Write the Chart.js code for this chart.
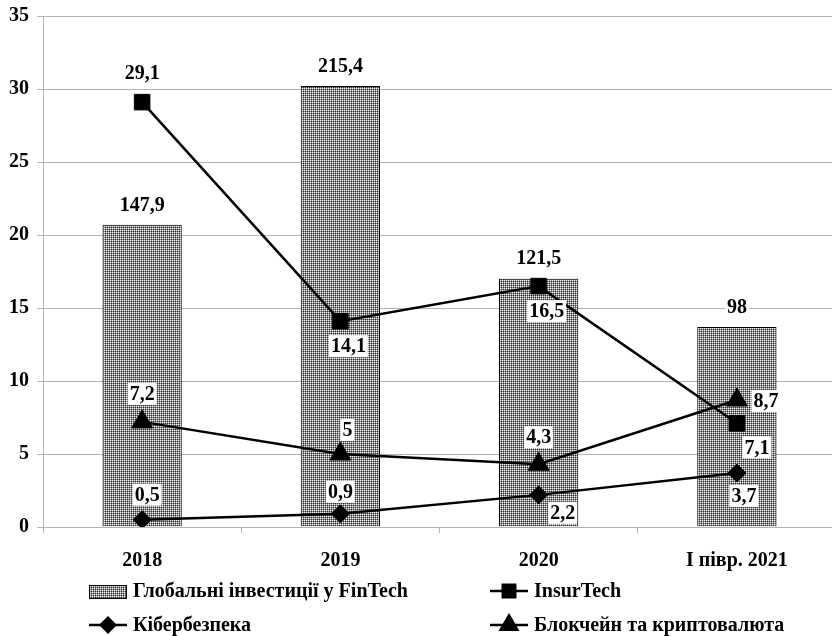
<!DOCTYPE html>
<html>
<head>
<meta charset="utf-8">
<script src="https://cdn.jsdelivr.net/npm/chart.js@4"></script>
<style>
  html, body { margin: 0; padding: 0; background: #fff; overflow: hidden; }
</style>
</head>
<body>
<canvas id="chart" width="849" height="636"></canvas>
<script>
// categories
const years = ['2018', '2019', '2020', 'I півр. 2021'];

// global FinTech investments, label values (bn USD)
const fintechValues = [147.9, 215.4, 121.5, 98];
// bar heights
const fintechBars = [20.7, 30.2, 17.0, 13.7];

const insurTech = [29.1, 14.1, 16.5, 7.1];
const cyberSecurity = [0.5, 0.9, 2.2, 3.7];
const blockchain = [7.2, 5, 4.3, 8.7];

const yTicks = [0, 5, 10, 15, 20, 25, 30, 35];

const FONT = "'Liberation Serif', 'Times New Roman', serif";
const GRID = '#b4b4b4';

// dotted grey fill like the original bars
function makePattern() {
    const c = document.createElement('canvas');
    c.width = 2; c.height = 2;
    const p = c.getContext('2d');
    p.fillStyle = '#909090';
    p.fillRect(0, 0, 2, 2);
    p.fillStyle = '#f0f0f0';
    p.fillRect(0, 0, 1, 1);
    p.fillStyle = '#303030';
    p.fillRect(1, 1, 1, 1);
    return p.createPattern(c, 'repeat');
}
const ctx = document.getElementById('chart').getContext('2d');
const pattern = makePattern();

const fmt = v => String(v).replace('.', ',');

// where each value label sits relative to its point (px)
const labelOffsets = [
    [[0, -20], [0, -20], [0, -21], [0, -20]],
    [[0, -29], [8, 25], [8, 25], [20, 24]],
    [[5, -25], [0, -22], [24, 18], [7, 23]],
    [[0, -28], [7, -24], [0, -27], [29, 1]]
];

const valueLabels = {
    id: 'valueLabels',
    afterDatasetsDraw(chart) {
        const c = chart.ctx;
        c.save();
        c.font = 'bold 20px ' + FONT;
        c.textAlign = 'center';
        c.textBaseline = 'middle';
        chart.data.datasets.forEach((ds, i) => {
            const meta = chart.getDatasetMeta(i);
            meta.data.forEach((el, j) => {
                const txt = fmt(ds.shownValues ? ds.shownValues[j] : ds.data[j]);
                const off = labelOffsets[i][j];
                const x = el.x + off[0];
                const y = el.y + off[1];
                const w = c.measureText(txt).width;
                c.fillStyle = '#fff';
                c.fillRect(x - w / 2 - 2, y - 11, w + 4, 22);
                c.fillStyle = '#000';
                c.fillText(txt, x, y + 1);
            });
        });
        c.restore();
    }
};

const bottomLegend = {
    id: 'bottomLegend',
    afterDraw(chart) {
        const c = chart.ctx;
        const items = [
            { ds: 0, x: 89, y: 591 },
            { ds: 1, x: 490, y: 591 },
            { ds: 2, x: 89, y: 625 },
            { ds: 3, x: 490, y: 625 }
        ];
        c.save();
        c.font = 'bold 20px ' + FONT;
        c.textBaseline = 'middle';
        items.forEach(it => {
            const ds = chart.data.datasets[it.ds];
            if (ds.type === 'bar') {
                c.fillStyle = pattern;
                c.fillRect(it.x, it.y - 6, 37, 13);
                c.strokeStyle = '#000';
                c.lineWidth = 1;
                c.strokeRect(it.x + 0.5, it.y - 5.5, 37, 13);
            } else {
                c.strokeStyle = '#000';
                c.lineWidth = 2.5;
                c.beginPath();
                c.moveTo(it.x, it.y);
                c.lineTo(it.x + 38, it.y);
                c.stroke();
                c.fillStyle = '#000';
                Chart.helpers.drawPoint(c, {
                    pointStyle: ds.pointStyle,
                    radius: ds.pointRadius * 0.8,
                    rotation: 0,
                    borderWidth: 1
                }, it.x + 19, it.y);
            }
            c.fillStyle = '#000';
            c.fillText(ds.label, it.x + 44, it.y + 1);
        });
        c.restore();
    }
};

const lineDs = (label, data, style, radius) => ({
    type: 'line',
    label: label,
    data: data,
    borderColor: '#000',
    borderWidth: 2.5,
    backgroundColor: '#000',
    pointStyle: style,
    pointRadius: radius,
    pointBackgroundColor: '#000',
    pointBorderColor: '#000',
    pointBorderWidth: 1,
    tension: 0,
    order: 1
});

new Chart(ctx, {
    data: {
        labels: years,
        datasets: [
            {
                type: 'bar',
                label: 'Глобальні інвестиції у FinTech',
                data: fintechBars,
                shownValues: fintechValues,
                backgroundColor: pattern,
                borderColor: '#000',
                borderWidth: 1,
                barPercentage: 0.8,
                categoryPercentage: 0.5,
                order: 2
            },
            lineDs('InsurTech', insurTech, 'rect', 11),
            lineDs('Кібербезпека', cyberSecurity, 'rectRot', 9),
            lineDs('Блокчейн та криптовалюта', blockchain, 'triangle', 12)
        ]
    },
    options: {
        responsive: false,
        animation: false,
        layout: { padding: { top: 15, right: 3, bottom: 60, left: 0 } },
        plugins: {
            legend: { display: false },
            tooltip: { enabled: false }
        },
        scales: {
            x: {
                offset: true,
                grid: {
                    offset: true,
                    drawOnChartArea: false,
                    drawTicks: true,
                    tickLength: 6,
                    color: GRID
                },
                border: { color: GRID },
                ticks: {
                    color: '#000',
                    padding: 16,
                    maxRotation: 0,
                    font: { family: FONT, size: 20, weight: 'bold' }
                },
                afterFit(scale) { scale.height = 49; }
            },
            y: {
                min: 0,
                max: 35,
                afterBuildTicks(scale) { scale.ticks = yTicks.map(v => ({ value: v })); },
                grid: { color: GRID, tickLength: 6 },
                border: { color: GRID },
                ticks: {
                    color: '#000',
                    padding: 8,
                    font: { family: FONT, size: 20, weight: 'bold', lineHeight: 0.8 }
                },
                afterFit(scale) { scale.width = 43; }
            }
        }
    },
    plugins: [valueLabels, bottomLegend]
});
</script>
</body>
</html>
